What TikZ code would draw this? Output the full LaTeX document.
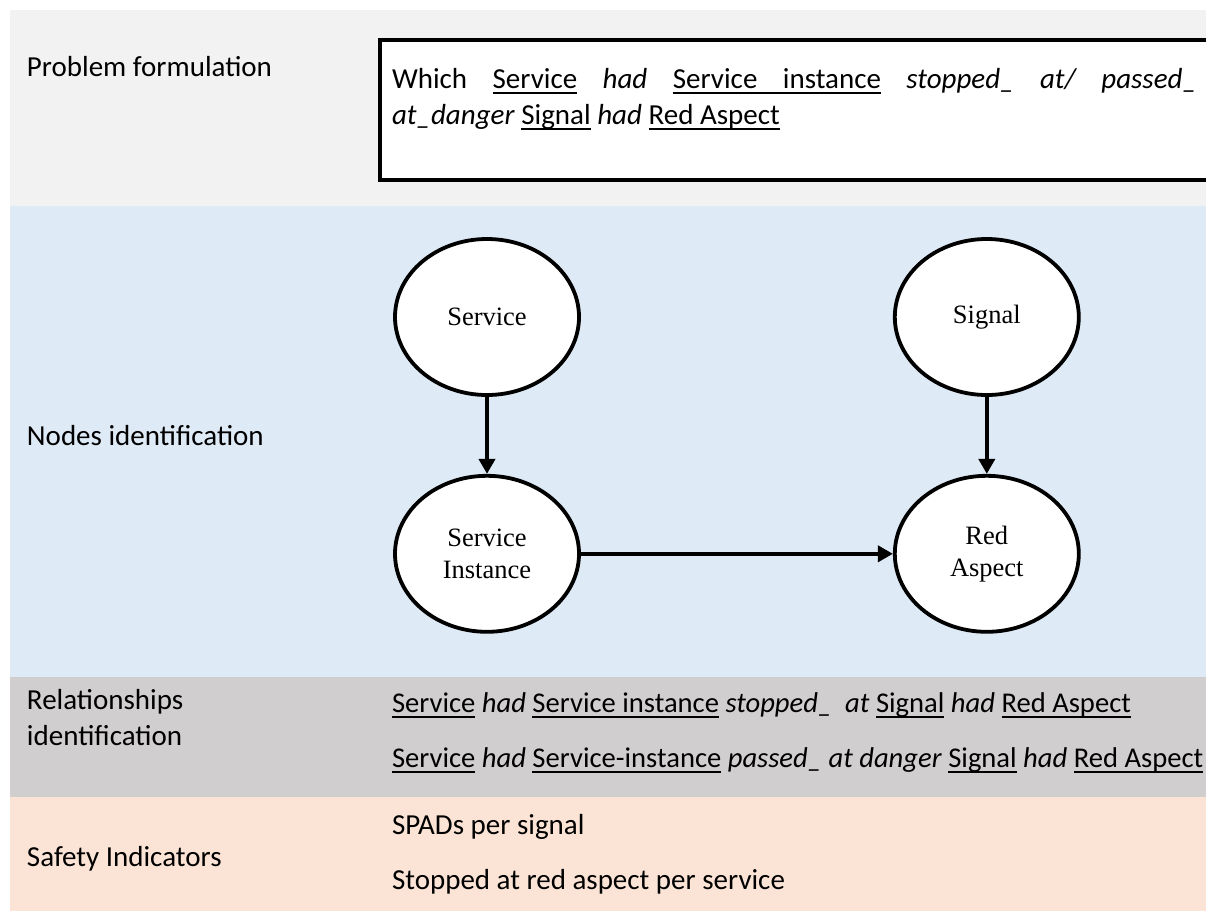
\documentclass[tikz,border=0pt]{standalone}
\usepackage{fontspec}
\setmainfont{Carlito}
\newfontfamily\entityfont{Liberation Serif}
\usetikzlibrary{shapes.geometric,arrows.meta,positioning}
\definecolor{formgray}{HTML}{F2F2F2}
\definecolor{nodeblue}{HTML}{DEEAF6}
\definecolor{relgray}{HTML}{D0CECE}
\definecolor{safepeach}{HTML}{FBE4D5}
\newcommand{\ulword}[1]{\setbox0\hbox{#1}\rlap{\vrule height -4pt depth 6pt width \wd0}\box0\relax}
\newcommand{\ulgap}{\leaders\vrule height -4pt depth 6pt\hskip\fontdimen2\font plus\fontdimen3\font minus\fontdimen4\font\relax}

\begin{document}
\begin{tikzpicture}[
                    x=1pt,
                    y=-1pt,
                    entity/.style={
                        ellipse,
                        draw=black,
                        line width=3.8pt,
                        fill=white,
                        minimum width=184pt,
                        minimum height=156pt,
                        inner sep=0pt,
                        align=center,
                        font=\entityfont\fontsize{26.5}{32}\selectfont
                    },
                    rowtext/.style={
                        anchor=base west,
                        inner sep=0pt,
                        align=left,
                        font=\fontsize{29}{36}\selectfont
                    },
                    reltext/.style={
                        rowtext,
                        font=\fontsize{28.6}{36}\selectfont
                    },
                    node distance=77pt,
                    ->,
                    line width=4pt,
                    >={Triangle[length=15pt,width=16pt]}
                ]
                \useasboundingbox (0,0) rectangle (1206,911);
                \fill[formgray] (10,10) rectangle (1206,206);
                \fill[nodeblue] (10,206) rectangle (1206,677);
                \fill[relgray] (10,677) rectangle (1206,797);
                \fill[safepeach] (10,797) rectangle (1206,911);

                \draw[-, line width=4pt, fill=white] (380,40) rectangle (1225,180);
                \node (question) [rowtext, text width=805pt, align=justify] at (390,88) {
                    Which \ulword{Service} \textit{had} \ulword{Service}\ulgap\ulword{instance} \textit{stopped\_ at/ passed\_}\linebreak
                    \textit{at\_danger} \ulword{Signal} \textit{had} \ulword{Red}\ulgap\ulword{Aspect}
                };

                \node (formlabel) [rowtext] at (25,76) {Problem formulation};
                \node (nodeslabel) [rowtext] at (25,445) {Nodes identification};
                \node (rellabel) [rowtext] at (25,745) {Relationships\\identification};
                \node (safelabel) [rowtext] at (25,866) {Safety Indicators};

                \node (relstop) [reltext] at (390,712) {
                    \ulword{Service} \textit{had} \ulword{Service}\ulgap\ulword{instance} \textit{stopped\_\ \ at} \ulword{Signal} \textit{had} \ulword{Red}\ulgap\ulword{Aspect}
                };
                \node (relpass) [reltext] at (390,767) {
                    \ulword{Service} \textit{had} \ulword{Service-instance} \textit{passed\_ at danger} \ulword{Signal} \textit{had} \ulword{Red}\ulgap\ulword{Aspect}
                };
                \node (spads) [rowtext] at (390,834) {SPADs per signal};
                \node (stopped) [rowtext] at (390,889) {Stopped at red aspect per service};

                \node (Service) [entity] at (487,317) {Service};
                \node (ServiceInstance) [entity, below=of Service] {Service\\Instance};
                \node (RedAspect) [entity, right=312pt of ServiceInstance] {Red\\Aspect};
                \node (Signal) [entity, above=of RedAspect] {Signal};

                \path
                (Service) edge (ServiceInstance)
                (ServiceInstance) edge (RedAspect)
                (Signal) edge (RedAspect)
                ;
            \end{tikzpicture}
\end{document}
